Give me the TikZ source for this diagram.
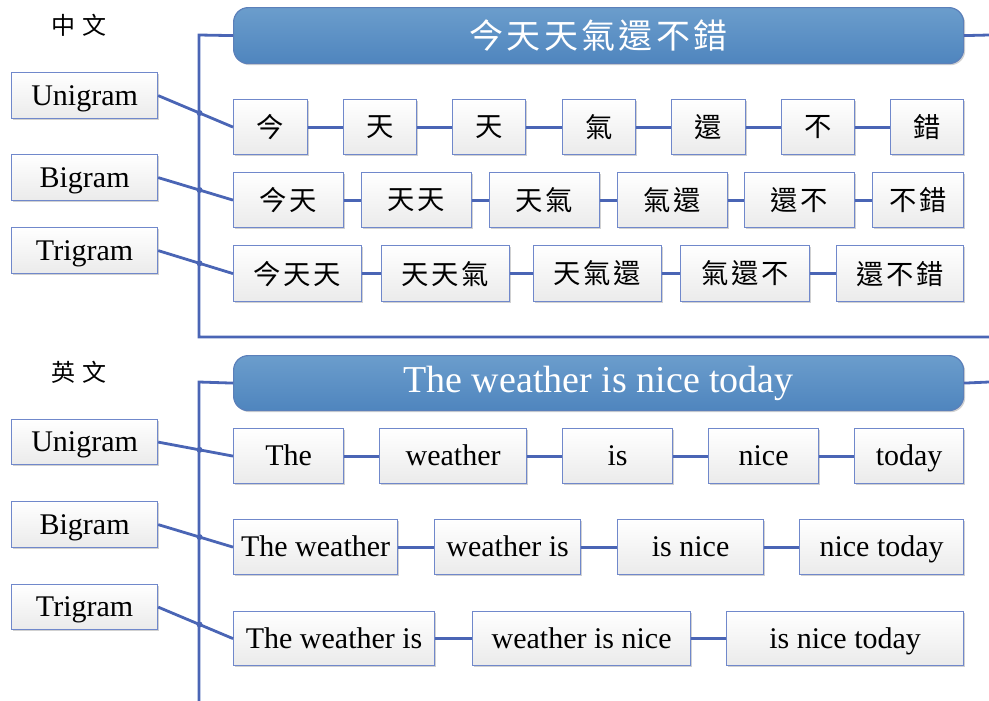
\documentclass[tikz,border=0pt]{standalone}
\usepackage{fontspec}
\setmainfont{Liberation Serif}
\newfontfamily\cjk[LetterSpace=10]{Noto Sans CJK TC}
\newfontfamily\cjkplain{Noto Sans CJK TC}
\usetikzlibrary{shadows,calc}
\definecolor{lc}{HTML}{4A65B5}
\definecolor{bc}{HTML}{7088CB}
\definecolor{tt}{HTML}{6B9DCC}
\definecolor{tb}{HTML}{4F85BE}
\definecolor{tbd}{HTML}{5B80BA}
\tikzset{
 basebox/.style={draw=bc, line width=0.9pt, top color=white, bottom color=black!8, inner sep=0pt, anchor=north west,
   drop shadow={shadow xshift=1.2pt, shadow yshift=-1.2pt, fill=black, opacity=0.18}},
 gbox/.style={basebox, font=\fontsize{22.5}{26}\selectfont, text height=14.5pt, text depth=0pt},
 cbox/.style={basebox, font=\cjk\fontsize{20.5}{24}\selectfont},
 tbox/.style={draw=tbd, line width=0.9pt, top color=tt, bottom color=tb, rounded corners=11pt, text=white, inner sep=0pt, anchor=north west,
   drop shadow={shadow xshift=1.2pt, shadow yshift=-1.2pt, fill=black, opacity=0.18}},
 conn/.style={draw=lc, line width=2.1pt},
 jump/.style={fill=lc, circle, inner sep=0pt, minimum size=4.5pt},
 lbl/.style={inner sep=0pt, font=\cjkplain\fontsize{18}{22}\selectfont}
}
\newcommand\gb[7]{\node[#1, minimum width={(#5-#3)*0.75pt}, minimum height={(#6-#4)*0.75pt}] (#2) at (#3,#4) {#7};}
\begin{document}
\begin{tikzpicture}[x=0.75pt,y=-0.75pt]
\useasboundingbox (0,0) rectangle (989,700);
% ---------- Chinese section ----------
\node[lbl] (zh) at (79,25) {中\hspace{6pt}文};
\gb{tbox}{T1}{233}{7}{963}{63}{\cjk\fontsize{25.5}{30}\selectfont 今天天氣還不錯}
\coordinate (t1) at (199,35);
\coordinate (b1) at (199,337);
\coordinate (e1) at (989,337);
\coordinate (r1) at (989,35);
\draw[conn] (T1.west) -- (t1) -- (b1) -- (e1);
\draw[conn] (T1.east) -- (r1);
\gb{gbox}{U1}{11}{72}{157}{118}{Unigram}
\gb{gbox}{B1}{11}{154}{157}{200}{Bigram}
\gb{gbox}{R1}{11}{227}{157}{273}{Trigram}
\gb{cbox}{c11}{233}{99}{307}{154}{今}
\gb{cbox}{c12}{343}{99}{416}{154}{天}
\gb{cbox}{c13}{452}{99}{525}{154}{天}
\gb{cbox}{c14}{562}{99}{635}{154}{氣}
\gb{cbox}{c15}{671}{99}{745}{154}{還}
\gb{cbox}{c16}{781}{99}{854}{154}{不}
\gb{cbox}{c17}{890}{99}{963}{154}{錯}
\gb{cbox}{c21}{233}{172}{343}{227}{今天}
\gb{cbox}{c22}{361}{172}{471}{227}{天天}
\gb{cbox}{c23}{489}{172}{599}{227}{天氣}
\gb{cbox}{c24}{617}{172}{727}{227}{氣還}
\gb{cbox}{c25}{744}{172}{854}{227}{還不}
\gb{cbox}{c26}{872}{172}{963}{227}{不錯}
\gb{cbox}{c31}{233}{245}{361}{301}{今天天}
\gb{cbox}{c32}{381}{245}{509}{301}{天天氣}
\gb{cbox}{c33}{533}{245}{661}{301}{天氣還}
\gb{cbox}{c34}{680}{245}{809}{301}{氣還不}
\gb{cbox}{c35}{836}{245}{963}{301}{還不錯}
\foreach \a/\b in {c11/c12,c12/c13,c13/c14,c14/c15,c15/c16,c16/c17,
  c21/c22,c22/c23,c23/c24,c24/c25,c25/c26,
  c31/c32,c32/c33,c33/c34,c34/c35}
  {\draw[conn] (\a.east) -- (\b.west);}
\draw[conn] (U1.east) -- (c11.west);
\draw[conn] (B1.east) -- (c21.west);
\draw[conn] (R1.east) -- (c31.west);
\node[jump] (j11) at ($(U1.east)!0.5526!(c11.west)$) {};
\node[jump] (j12) at ($(B1.east)!0.5526!(c21.west)$) {};
\node[jump] (j13) at ($(R1.east)!0.5526!(c31.west)$) {};
% ---------- English section ----------
\node[lbl] (en) at (79,372) {英\hspace{6pt}文};
\gb{tbox}{T2}{233}{355}{963}{410}{\fontsize{28.5}{32}\selectfont\rule{0pt}{19pt}The weather is nice today}
\coordinate (t2) at (199,382);
\coordinate (b2) at (199,702);
\coordinate (r2) at (989,382);
\draw[conn] (T2.west) -- (t2) -- (b2);
\draw[conn] (T2.east) -- (r2);
\gb{gbox}{U2}{11}{419}{157}{464}{Unigram}
\gb{gbox}{B2}{11}{501}{157}{547}{Bigram}
\gb{gbox}{R2}{11}{584}{157}{629}{Trigram}
\gb{gbox}{e11}{233}{428}{343}{483}{The}
\gb{gbox}{e12}{379}{428}{526}{483}{weather}
\gb{gbox}{e13}{562}{428}{672}{483}{is}
\gb{gbox}{e14}{708}{428}{818}{483}{nice}
\gb{gbox}{e15}{854}{428}{963}{483}{today}
\gb{gbox}{e21}{233}{519}{397}{574}{The weather}
\gb{gbox}{e22}{434}{519}{580}{574}{weather is}
\gb{gbox}{e23}{617}{519}{763}{574}{is nice}
\gb{gbox}{e24}{799}{519}{963}{574}{nice today}
\gb{gbox}{e31}{233}{611}{434}{665}{The weather is}
\gb{gbox}{e32}{472}{611}{690}{665}{weather is nice}
\gb{gbox}{e33}{726}{611}{963}{665}{is nice today}
\foreach \a/\b in {e11/e12,e12/e13,e13/e14,e14/e15,
  e21/e22,e22/e23,e23/e24,e31/e32,e32/e33}
  {\draw[conn] (\a.east) -- (\b.west);}
\draw[conn] (U2.east) -- (e11.west);
\draw[conn] (B2.east) -- (e21.west);
\draw[conn] (R2.east) -- (e31.west);
\node[jump] (j21) at ($(U2.east)!0.5526!(e11.west)$) {};
\node[jump] (j22) at ($(B2.east)!0.5526!(e21.west)$) {};
\node[jump] (j23) at ($(R2.east)!0.5526!(e31.west)$) {};
\end{tikzpicture}
\end{document}
